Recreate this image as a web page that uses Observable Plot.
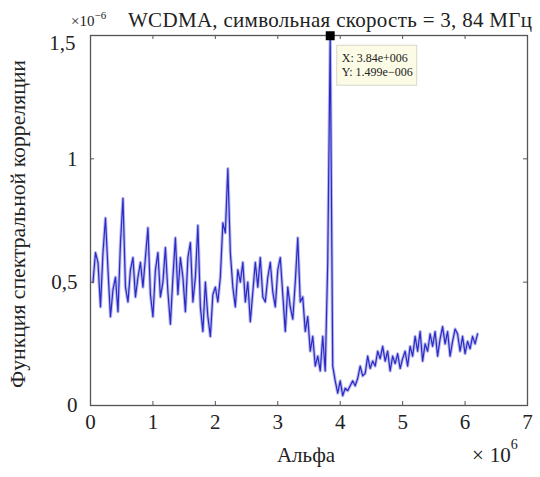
<!DOCTYPE html>
<html>
<head>
<meta charset="utf-8">
<script src="https://cdn.jsdelivr.net/npm/d3@7"></script>
<script src="https://cdn.jsdelivr.net/npm/@observablehq/plot@0.6"></script>
<style>
  html, body { margin: 0; padding: 0; background: #fff; }
  #chart { width: 540px; height: 477px; }
  #chart svg text, #chart svg tspan { font-family: 'Liberation Serif', 'Times New Roman', serif !important; }
</style>
</head>
<body>
<div id="chart"></div>
<script>
// Alpha sampling (×10^6): first sample and spacing of the spectrum
const alphaStart = 0.04;
const alphaStep = 0.04;
// Spectral correlation values (×10^-6)
const scfValues = [
  0.50, 0.62, 0.58, 0.40, 0.62, 0.76, 0.55, 0.36, 0.47, 0.52,
  0.38, 0.66, 0.84, 0.48, 0.42, 0.55, 0.60, 0.44, 0.52, 0.58,
  0.48, 0.60, 0.72, 0.45, 0.36,
  0.55, 0.62, 0.44, 0.50, 0.64, 0.46, 0.33, 0.52, 0.68, 0.45,
  0.60, 0.52, 0.38, 0.60, 0.66, 0.42, 0.52, 0.73, 0.40, 0.30,
  0.50, 0.36, 0.28, 0.45, 0.48,
  0.42, 0.52, 0.74, 0.70, 0.96, 0.62, 0.48, 0.40, 0.55, 0.50,
  0.58, 0.42, 0.50, 0.34, 0.46, 0.58, 0.48, 0.60, 0.44, 0.42,
  0.52, 0.58, 0.46, 0.40, 0.55,
  0.60, 0.45, 0.30, 0.48, 0.40, 0.35, 0.50, 0.68, 0.42, 0.44,
  0.30, 0.36, 0.22, 0.28, 0.16, 0.20,
  0.14, 0.28, 0.14, 0.58, 1.499, 0.16, 0.10, 0.05, 0.10,
  0.04, 0.07, 0.06, 0.08, 0.10, 0.08, 0.11, 0.16, 0.12, 0.13,
  0.20, 0.15, 0.18, 0.16, 0.22, 0.19, 0.24, 0.18, 0.22, 0.14,
  0.20, 0.17, 0.21, 0.15, 0.19,
  0.22, 0.16, 0.24, 0.20, 0.28, 0.22, 0.30, 0.18, 0.25, 0.22,
  0.29, 0.24, 0.30, 0.20, 0.27, 0.32, 0.25, 0.30, 0.20, 0.26,
  0.31, 0.29, 0.22, 0.28, 0.21, 0.26, 0.23, 0.28, 0.25, 0.29
];
const xTicks = [0, 1, 2, 3, 4, 5, 6, 7];
const yTicks = [0, 0.5, 1, 1.5];
const peak = {x: 3.84, y: 1.499, labelX: "X: 3.84e+006", labelY: "Y: 1.499e\u2212006"};
const titleText = "WCDMA, символьная скорость = 3, 84 МГц";
const xLabel = "Альфа";
const yLabel = "Функция спектральной корреляции";

const data = scfValues.map((v, i) => ({alpha: alphaStart + i * alphaStep, scf: v}));
const fmt = d => String(d).replace(".", ",");

const W = 540, H = 477, mL = 90, mR = 13, mT = 35, mB = 72;
const fw = W - mL - mR, fh = H - mT - mB;
const font = "'Liberation Serif', 'Times New Roman', serif";

const svg = Plot.plot({
  width: W, height: H,
  marginLeft: mL, marginRight: mR, marginTop: mT, marginBottom: mB,
  style: {fontFamily: font, fontSize: "20px", background: "#fff", color: "#222", overflow: "visible"},
  x: {domain: [0, 7], ticks: xTicks, tickFormat: fmt, label: null},
  y: {domain: [0, 1.5], ticks: yTicks, tickFormat: fmt, label: null},
  marks: [
    Plot.line(data, {x: "alpha", y: "scf", stroke: "#a9a9e6", strokeWidth: 3.2, strokeOpacity: 0.8}),
    Plot.line(data, {x: "alpha", y: "scf", stroke: "#2a2ac8", strokeWidth: 1.2}),
    Plot.frame({stroke: "#555", strokeWidth: 1.3}),
    Plot.tickX(xTicks, {x: d => d, stroke: "#555", insetTop: fh - 4}),
    Plot.tickX(xTicks, {x: d => d, stroke: "#555", insetBottom: fh - 4}),
    Plot.tickY(yTicks, {y: d => d, stroke: "#555", insetRight: fw - 4}),
    Plot.tickY(yTicks, {y: d => d, stroke: "#555", insetLeft: fw - 4}),
    Plot.axisX(xTicks, {tickFormat: fmt, tickSize: 0, tickPadding: 9, fontSize: 21, fontFamily: font, label: null}),
    Plot.axisY(yTicks.slice(0, 3), {tickFormat: fmt, tickSize: 0, tickPadding: 13, fontSize: 21, fontFamily: font, label: null}),
    Plot.axisY(yTicks.slice(3), {tickFormat: fmt, tickSize: 0, tickPadding: 15, dy: 8, fontSize: 21, fontFamily: font, label: null}),
    Plot.dot([peak], {x: "x", y: "y", symbol: "square", fill: "#000", stroke: "#000", r: 4.2})
  ]
});

const sx = svg.scale("x"), sy = svg.scale("y");
const g = d3.select(svg).append("g").attr("fill", "#222").attr("text-anchor", "start");

// data tip
const px = sx.apply(peak.x), py = sy.apply(peak.y);
g.append("rect").attr("x", px + 7).attr("y", py + 10).attr("width", 80).attr("height", 40)
  .attr("fill", "#fbfbe6").attr("stroke", "#d8d8c8").attr("stroke-width", 1);
g.append("text").attr("text-anchor", "start").attr("x", px + 12).attr("y", py + 27).attr("font-size", 12).text(peak.labelX);
g.append("text").attr("text-anchor", "start").attr("x", px + 12).attr("y", py + 41).attr("font-size", 12).text(peak.labelY);

// title
g.append("text").attr("text-anchor", "start").attr("x", 128).attr("y", 27).attr("font-size", 21)
  .attr("textLength", 404).attr("lengthAdjust", "spacing").text(titleText);
// y exponent
const ye = g.append("text").attr("text-anchor", "start").attr("x", 71).attr("y", 26).attr("font-size", 15);
ye.append("tspan").text("\u00d710");
ye.append("tspan").attr("dy", -7).attr("font-size", 11).text("\u22126");
// x label
g.append("text").attr("x", 306).attr("y", 462).attr("text-anchor", "middle").attr("font-size", 21).text(xLabel);
// x exponent
const xe = g.append("text").attr("text-anchor", "start").attr("x", 472).attr("y", 462).attr("font-size", 21);
xe.append("tspan").text("\u00d7");
xe.append("tspan").attr("dx", 6).text("10");
xe.append("tspan").attr("dy", -13).attr("font-size", 14).text("6");
// y label
g.append("text").attr("transform", "translate(25,224) rotate(-90)").attr("text-anchor", "middle")
  .attr("font-size", 20).attr("textLength", 328).attr("lengthAdjust", "spacingAndGlyphs").text(yLabel);

document.getElementById("chart").appendChild(svg);
</script>
</body>
</html>
